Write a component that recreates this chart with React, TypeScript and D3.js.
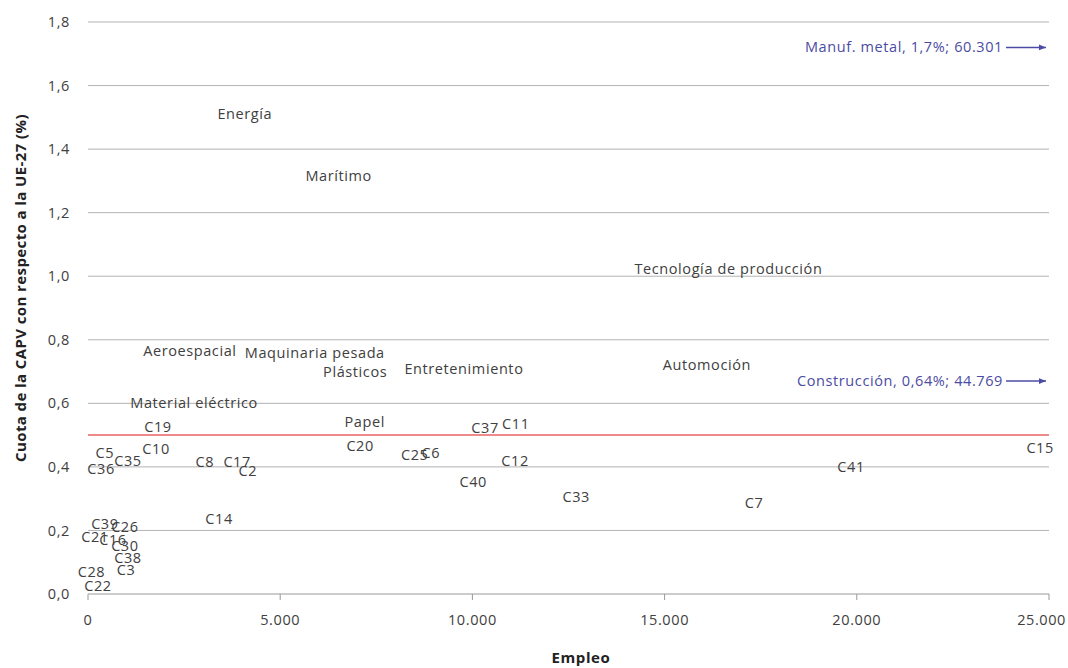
import React from 'react';
import * as d3 from 'd3';

// clústeres: etiqueta, empleo, cuota CAPV / UE-27 (%)
const labels = ['Energía', 'Marítimo', 'Tecnología de producción', 'Aeroespacial', 'Maquinaria pesada',
  'Plásticos', 'Entretenimiento', 'Automoción', 'Material eléctrico', 'Papel', 'C19', 'C37', 'C11',
  'C20', 'C25', 'C6', 'C12', 'C15', 'C41', 'C5', 'C10', 'C35', 'C36', 'C8', 'C17', 'C2', 'C40',
  'C33', 'C7', 'C14', 'C39', 'C26', 'C21', 'C16', 'C30', 'C38', 'C3', 'C28', 'C22'];
const empleo = [4080, 6520, 16660, 2650, 5900, 6950, 9780, 16100, 2760, 7200, 1820, 10330, 11130,
  7080, 8500, 8920, 11110, 24770, 19850, 440, 1770, 1040, 340, 3040, 3880, 4160, 10020,
  12700, 17330, 3410, 440, 960, 180, 650, 960, 1040, 990, 90, 260];
const cuota = [1.51, 1.315, 1.023, 0.765, 0.758, 0.699, 0.708, 0.721, 0.601, 0.541, 0.525, 0.522, 0.535,
  0.466, 0.437, 0.444, 0.419, 0.459, 0.400, 0.444, 0.456, 0.419, 0.393, 0.415, 0.415, 0.387, 0.352,
  0.305, 0.286, 0.236, 0.220, 0.211, 0.179, 0.170, 0.151, 0.113, 0.076, 0.069, 0.025];

// fuera de escala
const fueraLabels = ['Manuf. metal, 1,7%; 60.301', 'Construcción, 0,64%; 44.769'];
const fueraCuota = [1.72, 0.67];

const media = 0.5;
const xTicks = [0, 5000, 10000, 15000, 20000, 25000];
const yTicks = [0, 0.2, 0.4, 0.6, 0.8, 1.0, 1.2, 1.4, 1.6, 1.8];

const W = 1068;
const H = 668;
const margin = { top: 22, right: 19, bottom: 74, left: 88 };

const locale = d3.formatLocale({ decimal: ',', thousands: '.', grouping: [3], currency: ['', '€'] });
const fmtX = locale.format(',d');
const fmtY = locale.format('.1f');

const font = '"Open Sans", "Noto Sans", sans-serif';
const textColor = '#404040';
const blue = '#4b4ba3';
const fs = 14.5;
const ls = 0.6;

export default function App() {
  const x = d3.scaleLinear().domain([0, 25000]).range([margin.left, W - margin.right]);
  const y = d3.scaleLinear().domain([0, 1.8]).range([H - margin.bottom, margin.top]);
  const [x0, x1] = x.range();

  return (
    <svg width={W} height={H} style={{ position: 'absolute', left: 0, top: 0, background: '#fff' }}
      fontFamily={font} letterSpacing={ls}>
      <defs>
        <marker id="arr" viewBox="0 0 10 10" refX="10" refY="5" markerWidth="10" markerHeight="7"
          markerUnits="userSpaceOnUse" orient="auto">
          <path d="M0,1 L10,5 L0,9 Z" fill={blue} />
        </marker>
      </defs>

      {/* rejilla */}
      {yTicks.filter(t => t > 0).map(t => (
        <line key={t} x1={x0} x2={x1} y1={y(t)} y2={y(t)} stroke="#b3b3b3" strokeWidth={1} />
      ))}
      {yTicks.map(t => (
        <text key={'yl' + t} x={70} y={y(t)} dy="0.35em" textAnchor="end" fontSize={fs} fill={textColor}>
          {fmtY(t)}
        </text>
      ))}

      {/* eje x */}
      <line x1={x0} x2={x1} y1={y(0)} y2={y(0)} stroke="#999" strokeWidth={1} />
      {xTicks.map((t, i) => (
        <g key={'x' + t}>
          <line x1={x(t)} x2={x(t)} y1={y(0)} y2={y(0) + 6} stroke="#999" />
          <text x={i === xTicks.length - 1 ? W - 2 : x(t)} y={y(0) + 31}
            textAnchor={i === xTicks.length - 1 ? 'end' : 'middle'} fontSize={fs} fill={textColor}>{fmtX(t)}</text>
        </g>
      ))}

      {/* media UE */}
      <line x1={x0} x2={x1} y1={y(media)} y2={y(media)} stroke="#ee8a8a" strokeWidth={2} />

      {/* etiquetas de clúster */}
      {labels.map((l, i) => (
        <text key={l} x={x(empleo[i])} y={y(cuota[i])} dy="0.35em" textAnchor="middle"
          fontSize={fs} fill={textColor}>{l}</text>
      ))}

      {/* fuera de escala */}
      {fueraLabels.map((l, i) => (
        <g key={l}>
          <text x={x1 - 46} y={y(fueraCuota[i])} dy="0.35em" textAnchor="end" fontSize={fs} fill={blue}>{l}</text>
          <line x1={x1 - 43} x2={x1 - 3} y1={y(fueraCuota[i])} y2={y(fueraCuota[i])} stroke={blue}
            strokeWidth={1.5} markerEnd="url(#arr)" />
        </g>
      ))}

      {/* títulos */}
      <text x={581} y={663} textAnchor="middle" fontSize={15} fontWeight="bold" fill="#222">Empleo</text>
      <text transform="translate(26,288) rotate(-90)" textAnchor="middle" fontSize={15}
        fontWeight="bold" fill="#222" letterSpacing={0.4}>Cuota de la CAPV con respecto a la UE-27 (%)</text>
    </svg>
  );
}
